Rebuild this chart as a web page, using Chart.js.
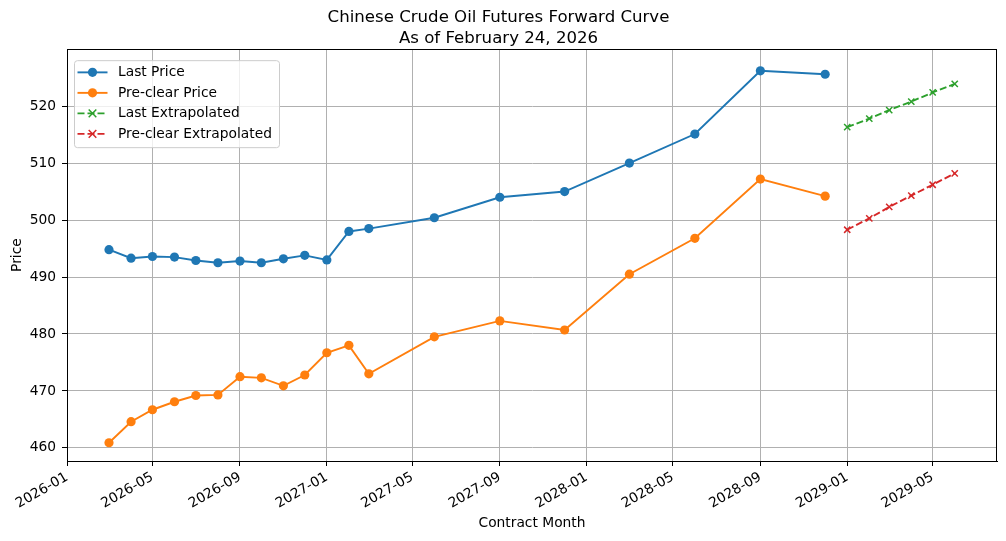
<!DOCTYPE html>
<html>
<head>
<meta charset="utf-8">
<script src="https://cdn.jsdelivr.net/npm/chart.js@4.4.1/dist/chart.umd.min.js"></script>
<style>
  html, body { margin: 0; padding: 0; background: #fff; }
  #wrap { width: 1006px; height: 541px; }
</style>
</head>
<body>
<div id="wrap"><canvas id="curve" width="1006" height="541"></canvas></div>
<script>
// data
const contractMonths = ['2026-03', '2026-04', '2026-05', '2026-06', '2026-07', '2026-08', '2026-09',
  '2026-10', '2026-11', '2026-12', '2027-01', '2027-02', '2027-03', '2027-06', '2027-09', '2027-12',
  '2028-03', '2028-06', '2028-09', '2028-12'];
const lastPrice = [494.8, 493.3, 493.6, 493.5, 492.9, 492.5, 492.8, 492.5, 493.2, 493.8, 493.0, 498.0,
  498.5, 500.4, 504.0, 505.0, 510.0, 515.1, 526.2, 525.6];
const preclearPrice = [460.9, 464.6, 466.7, 468.1, 469.2, 469.3, 472.5, 472.3, 470.9, 472.8, 476.7, 478.0,
  473.0, 479.5, 482.3, 480.7, 490.5, 496.8, 507.2, 504.2];

const extrapMonths = ['2029-01', '2029-02', '2029-03', '2029-04', '2029-05', '2029-06'];
const lastExtrap = [516.3, 517.8, 519.3, 520.8, 522.4, 523.9];
const preclearExtrap = [498.3, 500.3, 502.3, 504.3, 506.2, 508.2];

const xTickMonths = ['2026-01', '2026-05', '2026-09', '2027-01', '2027-05', '2027-09', '2028-01',
  '2028-05', '2028-09', '2029-01', '2029-05'];
const yTicks = [460, 470, 480, 490, 500, 510, 520];

const FONT = 'DejaVu Sans';
const TICK_SIZE = 13.8;
Chart.defaults.font.family = FONT;
Chart.defaults.color = '#000';

function monthToMs(m) {
    const [y, mo] = m.split('-').map(Number);
    return Date.UTC(y, mo - 1, 1);
}
function msToMonth(v) {
    const d = new Date(v);
    return d.getUTCFullYear() + '-' + String(d.getUTCMonth() + 1).padStart(2, '0');
}
function toPoints(months, values) {
    return months.map((m, i) => ({ x: monthToMs(m), y: values[i] }));
}

const DAY = 86400000;
const xMin = monthToMs('2026-01');
const xMax = monthToMs('2029-06') + 59.4 * DAY;

// spines and legend box inside the axes, matplotlib-like
const frameAndLegend = {
    id: 'frameAndLegend',
    afterDatasetsDraw(chart) {
        const { ctx, chartArea: a } = chart;
        ctx.save();
        ctx.strokeStyle = '#000';
        ctx.lineWidth = 1;
        ctx.strokeRect(Math.round(a.left) + 0.5, Math.round(a.top) + 0.5,
            Math.round(a.right - a.left) - 1, Math.round(a.bottom - a.top));

        const bx = a.left + 7.5, by = a.top + 11.5, bw = 205, bh = 87;
        ctx.beginPath();
        ctx.roundRect(bx, by, bw, bh, 3);
        ctx.fillStyle = 'rgba(255,255,255,0.8)';
        ctx.fill();
        ctx.strokeStyle = '#cccccc';
        ctx.stroke();

        chart.data.datasets.forEach((ds, i) => {
            const y = by + 11.7 + i * 20.5;
            const x0 = bx + 3, x1 = bx + 33, xm = (x0 + x1) / 2;
            ctx.strokeStyle = ds.borderColor;
            ctx.lineWidth = ds.borderWidth;
            ctx.setLineDash(ds.borderDash || []);
            ctx.beginPath();
            ctx.moveTo(x0, y);
            ctx.lineTo(x1, y);
            ctx.stroke();
            ctx.setLineDash([]);
            if (ds.pointStyle === 'crossRot') {
                const r = 3.8;
                ctx.lineWidth = 1.5;
                ctx.beginPath();
                ctx.moveTo(xm - r, y - r); ctx.lineTo(xm + r, y + r);
                ctx.moveTo(xm - r, y + r); ctx.lineTo(xm + r, y - r);
                ctx.stroke();
            } else {
                ctx.fillStyle = ds.backgroundColor;
                ctx.beginPath();
                ctx.arc(xm, y, 4.6, 0, Math.PI * 2);
                ctx.fill();
            }
            ctx.fillStyle = '#000';
            ctx.font = TICK_SIZE + 'px "' + FONT + '"';
            ctx.textAlign = 'left';
            ctx.textBaseline = 'middle';
            ctx.fillText(ds.label, bx + 43.5, y + 0.5);
        });
        ctx.restore();
    }
};

const lineDataset = (label, pts, color) => ({
    label: label,
    data: pts,
    borderColor: color,
    backgroundColor: color,
    borderWidth: 1.9,
    pointStyle: 'circle',
    pointRadius: 4.6,
    pointBorderWidth: 0,
    pointHoverRadius: 4.6,
    tension: 0
});
const extrapDataset = (label, pts, color) => ({
    label: label,
    data: pts,
    borderColor: color,
    backgroundColor: color,
    borderWidth: 1.9,
    borderDash: [7, 3],
    pointStyle: 'crossRot',
    pointRadius: 4.4,
    pointBorderWidth: 1.5,
    pointHoverRadius: 4.4,
    tension: 0
});

const chart = new Chart(document.getElementById('curve').getContext('2d'), {
    type: 'line',
    data: {
        datasets: [
            lineDataset('Last Price', toPoints(contractMonths, lastPrice), '#1f77b4'),
            lineDataset('Pre-clear Price', toPoints(contractMonths, preclearPrice), '#ff7f0e'),
            extrapDataset('Last Extrapolated', toPoints(extrapMonths, lastExtrap), '#2ca02c'),
            extrapDataset('Pre-clear Extrapolated', toPoints(extrapMonths, preclearExtrap), '#d62728')
        ]
    },
    options: {
        responsive: false,
        animation: false,
        devicePixelRatio: 1,
        layout: { padding: { left: 0, right: 9, top: 0, bottom: 0 } },
        plugins: {
            legend: { display: false },
            tooltip: { enabled: false },
            title: {
                display: true,
                text: ['Chinese Crude Oil Futures Forward Curve', 'As of February 24, 2026'],
                font: { size: 16.6, weight: 'normal', lineHeight: 1.27 },
                color: '#000',
                padding: { top: 7, bottom: 0 }
            }
        },
        scales: {
            x: {
                type: 'linear',
                min: xMin,
                max: xMax,
                afterBuildTicks: (scale) => {
                    scale.ticks = xTickMonths.map(m => ({ value: monthToMs(m) }));
                },
                afterFit: (scale) => { scale.height = 80; },
                ticks: {
                    autoSkip: false,
                    minRotation: 30,
                    maxRotation: 30,
                    padding: 3,
                    font: { size: TICK_SIZE },
                    color: '#000',
                    callback: (v) => msToMonth(v)
                },
                grid: { color: '#b0b0b0', lineWidth: 1, tickLength: 5, tickColor: '#000' },
                border: { display: true, color: '#000', width: 1 },
                title: {
                    display: true,
                    text: 'Contract Month',
                    font: { size: TICK_SIZE },
                    color: '#000',
                    padding: { top: 0, bottom: 9 }
                }
            },
            y: {
                min: 457.7,
                max: 530.0,
                afterBuildTicks: (scale) => {
                    scale.ticks = yTicks.map(v => ({ value: v }));
                },
                afterFit: (scale) => { scale.width = 67; },
                ticks: {
                    padding: 6,
                    font: { size: TICK_SIZE },
                    color: '#000'
                },
                grid: { color: '#b0b0b0', lineWidth: 1, tickLength: 5, tickColor: '#000' },
                border: { display: true, color: '#000', width: 1 },
                title: {
                    display: true,
                    text: 'Price',
                    font: { size: TICK_SIZE },
                    color: '#000',
                    padding: { top: 9, bottom: 0 }
                }
            }
        }
    },
    plugins: [frameAndLegend]
});
</script>
</body>
</html>
